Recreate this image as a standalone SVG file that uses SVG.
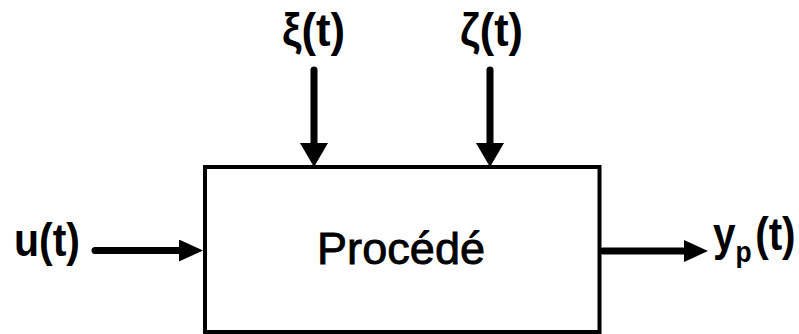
<svg xmlns="http://www.w3.org/2000/svg" width="799" height="334" viewBox="0 0 799 334">
<style>
.lbl{font-family:"Liberation Sans",Arial,sans-serif;font-weight:bold;font-size:46px;fill:#000}
.proc{font-family:"Liberation Sans",Arial,sans-serif;font-size:45px;fill:#000;stroke:#000;stroke-width:0.9}
.wire{stroke:#000;stroke-width:7;fill:none;stroke-linecap:round}
</style>
<defs>
<marker id="ah" markerUnits="userSpaceOnUse" markerWidth="24" markerHeight="22" refX="14" refY="11" orient="auto">
<path d="M0,0 L24,11 L0,22 Z" fill="#000"/>
</marker>
<marker id="av" markerUnits="userSpaceOnUse" markerWidth="24" markerHeight="28" refX="14" refY="14" orient="auto">
<path d="M0,0 L24,14 L0,28 Z" fill="#000"/>
</marker>
</defs>
<rect width="799" height="334" fill="#fff"/>
<g id="process">
<rect x="205" y="167" width="394.5" height="165" fill="#fff" stroke="#000" stroke-width="4"/>
<text class="proc" x="401" y="264" text-anchor="middle" textLength="168" lengthAdjust="spacing">Procédé</text>
</g>
<g id="input-u">
<text class="lbl" x="14" y="256" textLength="66" lengthAdjust="spacingAndGlyphs">u(t)</text>
</g>
<g id="dist-xi">
<text class="lbl" x="282" y="46" textLength="63" lengthAdjust="spacingAndGlyphs">ξ(t)</text>
</g>
<g id="dist-zeta">
<text class="lbl" x="460" y="46" textLength="63" lengthAdjust="spacingAndGlyphs">ζ(t)</text>
</g>
<g id="output-y">
<text class="lbl" transform="translate(713,250) scale(0.88,1)">y<tspan font-size="30px" dy="12">p</tspan><tspan dx="4" dy="-12">(t)</tspan></text>
</g>
<g id="connectors">
<line class="wire" x1="95" y1="250.5" x2="193" y2="250.5" marker-end="url(#ah)"/>
<line class="wire" x1="603" y1="251" x2="698" y2="251" marker-end="url(#ah)"/>
<line class="wire" x1="314" y1="70" x2="314" y2="157" marker-end="url(#av)"/>
<line class="wire" x1="490" y1="70" x2="490" y2="157" marker-end="url(#av)"/>
</g>
</svg>
